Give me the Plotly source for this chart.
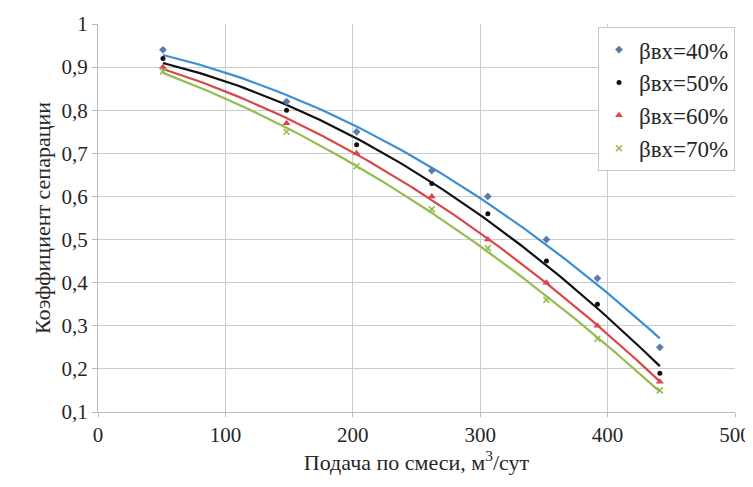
import numpy as np
import plotly.graph_objects as go

x_vals = [51, 148, 203, 262, 306, 352, 392, 441]
s40 = [0.94, 0.82, 0.75, 0.66, 0.60, 0.50, 0.41, 0.25]
s50 = [0.92, 0.80, 0.72, 0.63, 0.56, 0.45, 0.35, 0.19]
s60 = [0.90, 0.77, 0.70, 0.60, 0.50, 0.40, 0.30, 0.17]
s70 = [0.89, 0.75, 0.67, 0.57, 0.48, 0.36, 0.27, 0.15]
names = ["βвх=40%", "βвх=50%", "βвх=60%", "βвх=70%"]
y_ticks = [0.1, 0.2, 0.3, 0.4, 0.5, 0.6, 0.7, 0.8, 0.9, 1.0]
y_labels = ["0,1", "0,2", "0,3", "0,4", "0,5", "0,6", "0,7", "0,8", "0,9", "1"]

series = [s40, s50, s60, s70]
line_colors = ["#3b8fd4", "#111111", "#d9474a", "#94bd50"]
marker_colors = ["#5b7aa8", "#111111", "#d9474a", "#94bd50"]
symbols = ["diamond", "circle", "triangle-up", "x-thin"]
sizes = [6, 5, 7, 6]

FAM = "Liberation Serif"
TXT = "#262626"

fig = go.Figure()
xs = np.array(x_vals, dtype=float)
xfine = np.linspace(xs.min(), xs.max(), 100)
for i, s in enumerate(series):
    coef = np.polyfit(xs, np.array(s), 2)
    fig.add_trace(go.Scatter(x=xfine, y=np.polyval(coef, xfine), mode="lines",
                             line=dict(color=line_colors[i], width=2.2),
                             showlegend=False, hoverinfo="skip"))
for i, s in enumerate(series):
    mk = dict(symbol=symbols[i], color=marker_colors[i], size=sizes[i])
    if symbols[i] == "x-thin":
        mk["line"] = dict(color=marker_colors[i], width=1.6)
    fig.add_trace(go.Scatter(x=x_vals, y=s, mode="markers", name=names[i], marker=mk))

fig.update_layout(
    width=745, height=479,
    margin=dict(l=90, r=18, t=16, b=75),
    paper_bgcolor="white", plot_bgcolor="white",
    font=dict(family=FAM, size=20, color=TXT),
    legend=dict(x=1.0, y=0.992, xanchor="right", yanchor="top",
                bordercolor="#c8c8c8", borderwidth=1, bgcolor="white",
                font=dict(size=23, family=FAM, color=TXT),
                itemwidth=30, tracegroupgap=0),
    xaxis=dict(range=[0, 500], tickvals=[0, 100, 200, 300, 400, 500],
               showgrid=True, gridcolor="#cccccc", gridwidth=1,
               zeroline=False, showline=True, linecolor="#bbbbbb",
               ticks="outside", ticklen=4, tickcolor="#bbbbbb",
               tickfont=dict(size=21, family=FAM, color=TXT), automargin=False,
               title=dict(text="Подача по смеси, м<sup>3</sup>/сут",
                          font=dict(size=22, family=FAM, color=TXT), standoff=6)),
    yaxis=dict(range=[0.1, 1.0], tickvals=y_ticks, ticktext=y_labels,
               showgrid=True, gridcolor="#cccccc", gridwidth=1,
               zeroline=False, showline=True, linecolor="#bbbbbb",
               ticks="outside", ticklen=5, tickcolor="#bbbbbb",
               tickfont=dict(size=21, family=FAM, color=TXT), automargin=False,
               title=dict(text="Коэффициент сепарации",
                          font=dict(size=22, family=FAM, color=TXT), standoff=4)),
)
fig.write_html("out.html")
